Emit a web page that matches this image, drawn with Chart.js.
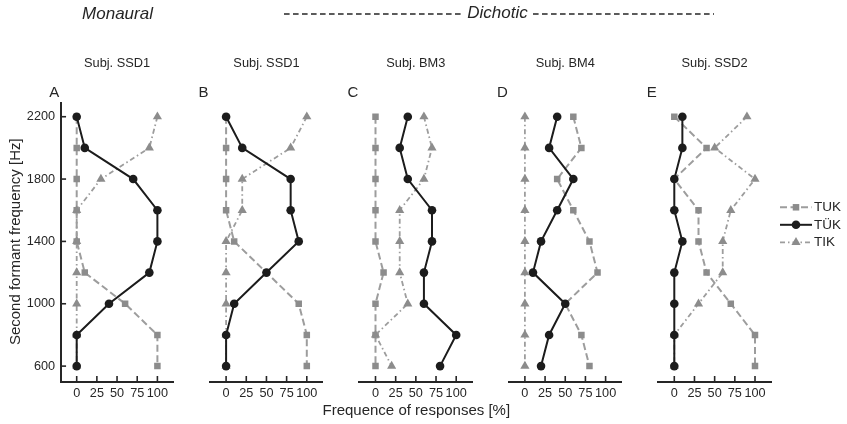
<!DOCTYPE html>
<html><head><meta charset="utf-8">
<script src="https://cdn.jsdelivr.net/npm/chart.js@4.4.1/dist/chart.umd.min.js"></script>
<style>
html,body{margin:0;padding:0;background:#fff;}
#wrap{position:relative;width:847px;height:424px;overflow:hidden;background:#fff;}
#wrap canvas{position:absolute;left:0;top:0;}
</style></head><body>
<div id="wrap"></div>
<script>
// ---- data ----
const freqs = [2200, 2000, 1800, 1600, 1400, 1200, 1000, 800, 600];
const panelLetters = ['A', 'B', 'C', 'D', 'E'];
const subjects = ['Subj. SSD1', 'Subj. SSD1', 'Subj. BM3', 'Subj. BM4', 'Subj. SSD2'];
const seriesNames = ['TUK', 'TÜK', 'TIK'];
const xTickValues = [0, 25, 50, 75, 100];
const yTickValues = [600, 1000, 1400, 1800, 2200];

const tukA = [0, 0, 0, 0, 0, 10, 60, 100, 100];
const tuekA = [0, 10, 70, 100, 100, 90, 40, 0, 0];
const tikA = [100, 90, 30, 0, 0, 0, 0, 0, 0];

const tukB = [0, 0, 0, 0, 10, 50, 90, 100, 100];
const tuekB = [0, 20, 80, 80, 90, 50, 10, 0, 0];
const tikB = [100, 80, 20, 20, 0, 0, 0, 0, 0];

const tukC = [0, 0, 0, 0, 0, 10, 0, 0, 0];
const tuekC = [40, 30, 40, 70, 70, 60, 60, 100, 80];
const tikC = [60, 70, 60, 30, 30, 30, 40, 0, 20];

const tukD = [60, 70, 40, 60, 80, 90, 50, 70, 80];
const tuekD = [40, 30, 60, 40, 20, 10, 50, 30, 20];
const tikD = [0, 0, 0, 0, 0, 0, 0, 0, 0];

const tukE = [0, 40, 0, 30, 30, 40, 70, 100, 100];
const tuekE = [10, 10, 0, 0, 10, 0, 0, 0, 0];
const tikE = [90, 50, 100, 70, 60, 60, 30, 0, 0];

const panelSeries = [
  [tukA, tuekA, tikA],
  [tukB, tuekB, tikB],
  [tukC, tuekC, tikC],
  [tukD, tuekD, tikD],
  [tukE, tuekE, tikE]
];

// ---- styling / layout ----
const FONT = '"Liberation Sans", Arial, Helvetica, sans-serif';
const AXIS = '#262626';
const TEXT = '#262626';
const LINE_GRAY = '#9d9d9d';
const MARK_GRAY = '#8c8c8c';
const BLACK = '#1c1c1c';
const W = 847, H = 424;
const X0 = 76.7, STEP = 149.4, PXU = 0.807;
const X_MIN = -20, X_MAX = 120, Y_MIN = 500, Y_MAX = 2288;
const AREA_TOP = 103, AREA_BOTTOM = 381.7, XAXIS_H = 30;

const styles = [
  {borderColor: LINE_GRAY, borderWidth: 2, borderDash: [7, 3.5], pointStyle: 'rect', pointRadius: 4.6, color: MARK_GRAY, order: 3},
  {borderColor: BLACK, borderWidth: 2, borderDash: [], pointStyle: 'circle', pointRadius: 4.3, color: BLACK, order: 1},
  {borderColor: LINE_GRAY, borderWidth: 1.8, borderDash: [5, 3, 1.5, 3], pointStyle: 'triangle', pointRadius: 5.3, color: MARK_GRAY, order: 2}
];

const wrap = document.getElementById('wrap');

function text(ctx, str, x, y, size, opts) {
  opts = opts || {};
  ctx.save();
  ctx.font = (opts.italic ? 'italic ' : '') + size + 'px ' + FONT;
  ctx.fillStyle = TEXT;
  ctx.textAlign = opts.align || 'center';
  ctx.textBaseline = 'middle';
  if (opts.rotate) {
    ctx.translate(x, y);
    ctx.rotate(opts.rotate);
    ctx.fillText(str, 0, 0);
  } else {
    ctx.fillText(str, x, y);
  }
  ctx.restore();
}

function makePanel(i) {
  const left = X0 + STEP * i + X_MIN * PXU;
  const right = left + (X_MAX - X_MIN) * PXU;
  const canvas = document.createElement('canvas');
  canvas.width = W; canvas.height = H;
  wrap.appendChild(canvas);

  const datasets = seriesNames.map((name, k) => {
    const s = styles[k];
    return {
      label: name,
      data: freqs.map((f, j) => ({x: panelSeries[i][k][j], y: f})),
      showLine: true,
      fill: false,
      tension: 0,
      borderColor: s.borderColor,
      borderWidth: s.borderWidth,
      borderDash: s.borderDash,
      pointStyle: s.pointStyle,
      pointRadius: s.pointRadius,
      pointHoverRadius: s.pointRadius,
      pointBackgroundColor: s.color,
      pointBorderColor: s.color,
      pointBorderWidth: 0,
      order: s.order
    };
  });

  const deco = {
    id: 'deco' + i,
    afterDraw(chart) {
      const ctx = chart.ctx;
      const xs = chart.scales.x, ys = chart.scales.y;
      const a = chart.chartArea;
      ctx.save();
      ctx.strokeStyle = AXIS;
      ctx.lineWidth = 1.6;
      ctx.setLineDash([]);
      // inward tick marks
      xTickValues.forEach(v => {
        const px = xs.getPixelForValue(v);
        ctx.beginPath(); ctx.moveTo(px, a.bottom); ctx.lineTo(px, a.bottom - 5.7); ctx.stroke();
      });
      if (i === 0) {
        yTickValues.forEach(v => {
          const py = ys.getPixelForValue(v);
          ctx.beginPath(); ctx.moveTo(a.left, py); ctx.lineTo(a.left + 5.5, py); ctx.stroke();
        });
      }
      ctx.restore();
      // panel texts
      text(ctx, subjects[i], xs.getPixelForValue(50), 63, 12.8);
      text(ctx, panelLetters[i], xs.getPixelForValue(0) - 22.5, 93, 15);
      if (i === 0) {
        text(ctx, 'Monaural', 117.5, 14, 17, {italic: true});
        text(ctx, 'Dichotic', 497.5, 13.5, 17, {italic: true});
        ctx.save();
        ctx.strokeStyle = TEXT; ctx.lineWidth = 1.3; ctx.setLineDash([5.6, 3.4]);
        ctx.beginPath(); ctx.moveTo(284, 14); ctx.lineTo(462, 14); ctx.stroke();
        ctx.beginPath(); ctx.moveTo(533, 14); ctx.lineTo(714, 14); ctx.stroke();
        ctx.restore();
        text(ctx, 'Second formant frequency [Hz]', 15.5, 241.7, 15, {rotate: -Math.PI / 2});
        text(ctx, 'Frequence of responses [%]', 416.3, 410.7, 15);
      }
      if (i === 4) {
        chart.data.datasets.forEach((ds, k) => {
          const y = 207.3 + 17.5 * k;
          ctx.save();
          ctx.strokeStyle = ds.borderColor; ctx.lineWidth = ds.borderWidth;
          ctx.setLineDash(ds.borderDash);
          ctx.beginPath(); ctx.moveTo(780, y); ctx.lineTo(812, y); ctx.stroke();
          ctx.restore();
          ctx.save();
          ctx.fillStyle = ds.pointBackgroundColor;
          Chart.helpers.drawPoint(ctx, {pointStyle: ds.pointStyle, radius: ds.pointRadius, borderWidth: 0, rotation: 0}, 796, y);
          ctx.restore();
          text(ctx, ds.label, 814, y, 13.5, {align: 'left'});
        });
      }
    }
  };

  return new Chart(canvas, {
    type: 'scatter',
    data: {datasets},
    options: {
      responsive: false,
      animation: false,
      devicePixelRatio: 1,
      events: [],
      layout: {padding: {left: i === 0 ? 0 : left, right: W - right, top: AREA_TOP, bottom: H - AREA_BOTTOM - XAXIS_H}},
      plugins: {legend: {display: false}, tooltip: {enabled: false}, title: {display: false}},
      scales: {
        x: {
          type: 'linear', min: X_MIN, max: X_MAX, position: 'bottom',
          afterBuildTicks: s => { s.ticks = xTickValues.map(v => ({value: v})); },
          afterFit: s => { s.height = XAXIS_H; },
          grid: {display: false, drawTicks: false},
          border: {display: true, color: AXIS, width: 2},
          ticks: {font: {family: FONT, size: 12.7}, color: TEXT, padding: 4, maxRotation: 0, autoSkip: false,
                  callback: v => String(v)}
        },
        y: {
          type: 'linear', min: Y_MIN, max: Y_MAX, position: 'left', display: i === 0,
          afterBuildTicks: s => { s.ticks = yTickValues.map(v => ({value: v})); },
          afterFit: s => { s.width = i === 0 ? left : 0; },
          grid: {display: false, drawTicks: false},
          border: {display: true, color: AXIS, width: 2},
          ticks: {font: {family: FONT, size: 12.7}, color: TEXT, padding: 5.5, autoSkip: false,
                  callback: v => String(v)}
        }
      }
    },
    plugins: [deco]
  });
}

for (let i = 0; i < 5; i++) makePanel(i);
</script>
</body></html>
